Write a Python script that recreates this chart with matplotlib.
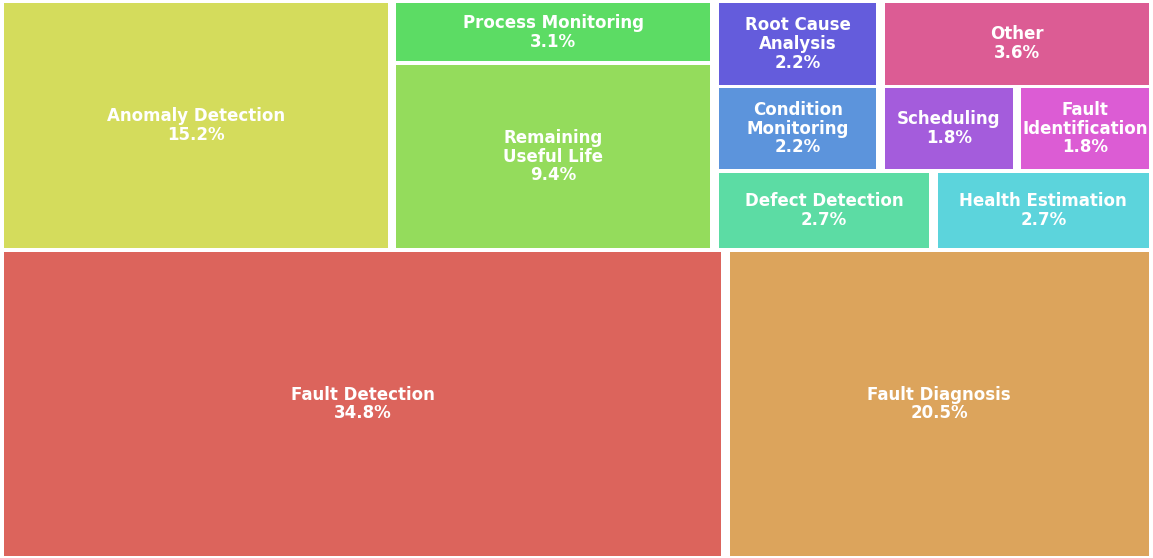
import textwrap
import matplotlib
matplotlib.use('Agg')
import matplotlib.pyplot as plt
import matplotlib.patches as mpatches
import seaborn as sns

# --- Datos (porcentaje de trabajos por tarea) ---
tasks = ['Fault Detection', 'Fault Diagnosis', 'Anomaly Detection',
         'Remaining Useful Life', 'Process Monitoring', 'Defect Detection',
         'Health Estimation', 'Condition Monitoring', 'Root Cause Analysis',
         'Scheduling', 'Fault Identification', 'Other']
shares = [34.8, 20.5, 15.2, 9.4, 3.1, 2.7, 2.7, 2.2, 2.2, 1.8, 1.8, 3.6]

colors = sns.color_palette('hls', len(tasks))
plt.rcParams['font.family'] = ['DejaVu Sans']

# lienzo normalizado del treemap
norm_x, norm_y = 100.0, 120.0
pad = 0.38


# --- squarify (Bruls et al.) ---
def layoutrow(sizes, x, y, dx, dy):
    width = sum(sizes) / dy
    rects = []
    for s in sizes:
        rects.append((x, y, width, s / width))
        y += s / width
    return rects


def layoutcol(sizes, x, y, dx, dy):
    height = sum(sizes) / dx
    rects = []
    for s in sizes:
        rects.append((x, y, s / height, height))
        x += s / height
    return rects


def layout(sizes, x, y, dx, dy):
    return layoutrow(sizes, x, y, dx, dy) if dx >= dy else layoutcol(sizes, x, y, dx, dy)


def leftover(sizes, x, y, dx, dy):
    if dx >= dy:
        w = sum(sizes) / dy
        return x + w, y, dx - w, dy
    h = sum(sizes) / dx
    return x, y + h, dx, dy - h


def worst_ratio(sizes, x, y, dx, dy):
    return max(max(w / h, h / w) for (_, _, w, h) in layout(sizes, x, y, dx, dy))


def squarify(sizes, x, y, dx, dy):
    if len(sizes) == 0:
        return []
    if len(sizes) == 1:
        return layout(sizes, x, y, dx, dy)
    i = 1
    while i < len(sizes) and worst_ratio(sizes[:i], x, y, dx, dy) >= worst_ratio(sizes[:i + 1], x, y, dx, dy):
        i += 1
    cur, rest = sizes[:i], sizes[i:]
    return layout(cur, x, y, dx, dy) + squarify(rest, *leftover(cur, x, y, dx, dy))


total = sum(shares)
sizes = [v * norm_x * norm_y / total for v in shares]
rects = squarify(sizes, 0.0, 0.0, norm_x, norm_y)

# --- Figura ---
fig = plt.figure(figsize=(11.53, 5.58), dpi=100)
ax = fig.add_axes([0, 0, 1, 1])

for (x, y, w, h), name, val, c in zip(rects, tasks, shares, colors):
    ax.add_patch(mpatches.Rectangle((x + pad, y + pad), w - 2 * pad, h - 2 * pad,
                                    facecolor=c, edgecolor='none', alpha=0.97))
    label = textwrap.fill(name, 12, break_long_words=False) if len(name) > 18 else name
    ax.text(x + w / 2, y + h / 2, f'{label}\n{val:.1f}%', ha='center', va='center',
            fontsize=12, fontweight='bold', color='white', linespacing=1.05)

ax.set_xlim(0, norm_x)
ax.set_ylim(0, norm_y + 0.3)
ax.axis('off')

plt.savefig('out.png', dpi=100)
